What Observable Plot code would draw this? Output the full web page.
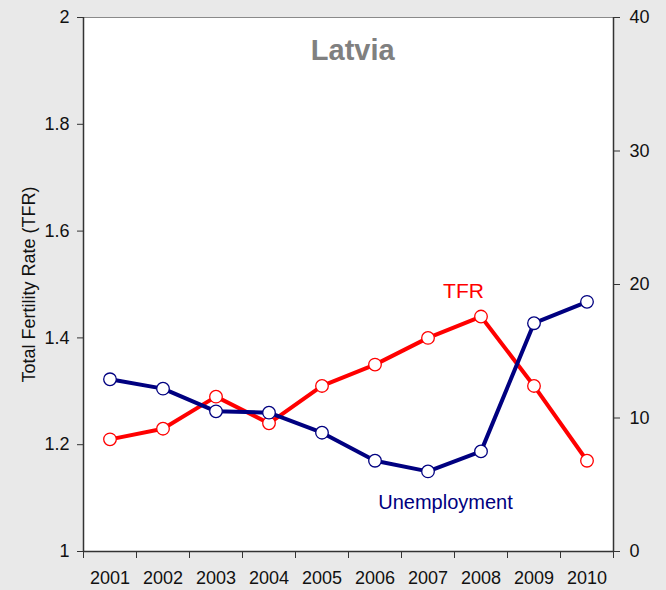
<!DOCTYPE html>
<html>
<head>
<meta charset="utf-8">
<script src="https://cdn.jsdelivr.net/npm/d3@7"></script>
<script src="https://cdn.jsdelivr.net/npm/@observablehq/plot@0.6"></script>
<style>
  html, body { margin: 0; padding: 0; background: #e9e9e9; }
  #chart svg { display: block; }
</style>
</head>
<body>
<div id="chart"></div>
<script>
const years = [2001, 2002, 2003, 2004, 2005, 2006, 2007, 2008, 2009, 2010];
const tfr = [1.21, 1.23, 1.29, 1.24, 1.31, 1.35, 1.40, 1.44, 1.31, 1.17];
const unemployment = [12.9, 12.2, 10.5, 10.4, 8.9, 6.8, 6.0, 7.5, 17.1, 18.7];
const leftTicks = [1, 1.2, 1.4, 1.6, 1.8, 2];
const rightTicks = [0, 10, 20, 30, 40];
const rightMax = 40;

const toLeft = u => 1 + u / rightMax;
const tfrData = years.map((y, i) => ({year: y, v: tfr[i]}));
const unData = years.map((y, i) => ({year: y, v: toLeft(unemployment[i])}));
const bounds = [years[0] - 0.5, ...years.map(y => y + 0.5)];

const navy = "#000080";
const red = "#ff0000";
const font = "'Liberation Sans', Arial, sans-serif";

const chart = Plot.plot({
  width: 666,
  height: 590,
  marginLeft: 83,
  marginRight: 53,
  marginTop: 17,
  marginBottom: 39,
  style: {background: "transparent", fontFamily: font, fontSize: "18px", color: "#111"},
  x: {domain: [bounds[0], bounds[bounds.length - 1]]},
  y: {domain: [1, 2]},
  marks: [
    Plot.frame({fill: "white", stroke: "#8a8a8a", strokeWidth: 1}),
    Plot.ruleX([bounds[0], bounds[bounds.length - 1]], {stroke: "#333", strokeWidth: 1.5}),
    Plot.ruleY([1], {stroke: "#333", strokeWidth: 1.5}),
    Plot.axisY(leftTicks, {anchor: "left", tickSize: 6, tickPadding: 8, tickFormat: d => String(d), label: null, stroke: "#333", fontSize: 18}),
    Plot.axisY(rightTicks.map(toLeft), {anchor: "right", tickSize: 6, tickPadding: 10, tickFormat: d => String(Math.round((d - 1) * rightMax)), label: null, stroke: "#333", fontSize: 18}),
    Plot.axisX(bounds, {anchor: "bottom", tickSize: 7, tickFormat: () => "", label: null, stroke: "#333"}),
    Plot.axisX(years, {anchor: "bottom", tickSize: 0, tickPadding: 20, tickFormat: d => String(d), label: null, fontSize: 18}),
    Plot.text(["Total Fertility Rate (TFR)"], {frameAnchor: "left", dx: -54, rotate: -90, textAnchor: "middle", fontSize: 18, fill: "#111"}),
    Plot.line(tfrData, {x: "year", y: "v", stroke: red, strokeWidth: 4}),
    Plot.line(unData, {x: "year", y: "v", stroke: navy, strokeWidth: 4}),
    Plot.dot(tfrData, {x: "year", y: "v", r: 6.3, fill: "white", stroke: red, strokeWidth: 1.3}),
    Plot.dot(unData, {x: "year", y: "v", r: 6.3, fill: "white", stroke: navy, strokeWidth: 1.3}),
    Plot.text(["Latvia"], {x: 2005.58, y: 1.938, fontSize: 29, fontWeight: "bold", fill: "#808080"}),
    Plot.text(["TFR"], {x: 2007.67, y: 1.487, fontSize: 21, fill: red}),
    Plot.text(["Unemployment"], {x: 2007.33, y: 1.092, fontSize: 20, fill: navy})
  ]
});
document.getElementById("chart").appendChild(chart);
</script>
</body>
</html>
